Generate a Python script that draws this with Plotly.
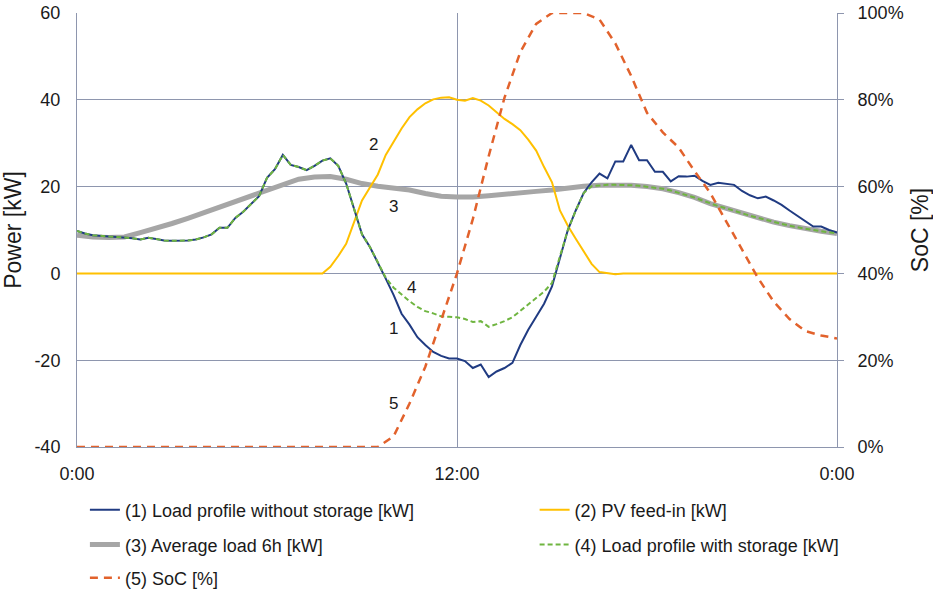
import plotly.graph_objects as go

# Time axis in hours (15-minute and 30-minute steps)
hours_q = [h / 4 for h in range(97)]
hours_h = [h / 2 for h in range(49)]

# (1) Load profile without storage [kW], 15-minute values
load_without = [
    9.8, 9.2, 8.8, 8.6,
    8.5, 8.4, 8.3, 8.1,
    7.8, 8.2, 7.9, 7.6,
    7.5, 7.5, 7.6, 7.8,
    8.3, 9.0, 10.5, 10.5,
    12.8, 14.2, 16.0, 17.8,
    22.0, 24.0, 27.3, 25.0,
    24.5, 23.8, 24.8, 26.0,
    26.5, 24.8, 20.7, 14.8,
    9.0, 6.1, 2.6, -1.2,
    -5.0, -9.3, -11.8, -14.7,
    -16.5, -18.1, -19.0, -19.6,
    -19.6, -20.2, -21.8, -21.0,
    -23.9, -22.6, -21.8, -20.6,
    -16.5, -13.0, -10.0, -7.0,
    -3.0, 3.8, 10.0, 14.5,
    18.5, 21.0, 23.0, 21.9,
    25.8, 25.8, 29.6, 26.1,
    26.1, 23.4, 23.4, 21.2,
    22.4, 22.3, 22.5, 21.3,
    20.4, 20.9, 20.7, 20.4,
    19.0, 18.0, 17.3, 17.7,
    16.8, 15.8, 14.5, 13.2,
    12.0, 10.8, 10.8, 10.0,
    9.4,
]

# (2) PV feed-in [kW], 15-minute values
pv_feed_in = [
    0, 0, 0, 0,
    0, 0, 0, 0,
    0, 0, 0, 0,
    0, 0, 0, 0,
    0, 0, 0, 0,
    0, 0, 0, 0,
    0, 0, 0, 0,
    0, 0, 0, 0,
    1.5, 4.0, 6.8, 12.0,
    16.8, 19.8, 22.8, 27.3,
    30.5, 33.4, 36.0, 37.8,
    39.2, 40.1, 40.5, 40.6,
    40.0, 39.8, 40.4, 39.8,
    38.7, 37.2, 35.6, 34.4,
    33.0, 30.8, 28.3, 24.5,
    21.0, 14.5, 11.0, 8.0,
    5.0, 2.2, 0.3, 0.0,
    -0.2, 0, 0, 0,
    0, 0, 0, 0,
    0, 0, 0, 0,
    0, 0, 0, 0,
    0, 0, 0, 0,
    0, 0, 0, 0,
    0, 0, 0, 0,
    0,
]

# (3) Average load 6h [kW], 30-minute values
avg_load_6h = [
    8.8, 8.4, 8.3, 8.4, 9.4, 10.4, 11.5, 12.7, 14.0, 15.5,
    16.7, 17.9, 19.4, 20.5, 21.7, 22.2, 22.3, 21.7, 20.7, 20.1,
    19.7, 19.2, 18.4, 17.8, 17.6, 17.6, 17.9, 18.3, 18.6, 18.9,
    19.2, 19.7, 20.1, 20.3, 20.4, 20.3, 20.0, 19.5, 18.6, 17.5,
    16.1, 15.0, 13.8, 12.8, 11.8, 11.0, 10.3, 9.7, 9.2,
]

# (4) Load profile with storage [kW], 15-minute values
load_with = [
    9.8, 9.2, 8.8, 8.6,
    8.5, 8.4, 8.3, 8.1,
    7.8, 8.2, 7.9, 7.6,
    7.5, 7.5, 7.6, 7.8,
    8.3, 9.0, 10.5, 10.5,
    12.8, 14.2, 16.0, 17.8,
    22.0, 24.0, 27.3, 25.0,
    24.5, 23.8, 24.8, 26.0,
    26.5, 24.8, 20.7, 14.8,
    9.0, 6.1, 2.6, -1.0,
    -3.3, -4.9, -6.4, -7.7,
    -8.7, -9.2, -9.9, -10.0,
    -10.1, -10.5, -11.2, -11.0,
    -12.3, -11.7, -11.0, -10.1,
    -8.6, -7.2, -5.6, -4.2,
    -2.2, 3.8, 10.0, 14.5,
    18.5, 20.1, 20.3, 20.4,
    20.4, 20.4, 20.3, 20.2,
    20.0, 19.8, 19.5, 19.1,
    18.6, 18.1, 17.5, 16.8,
    16.1, 15.5, 15.0, 14.4,
    13.8, 13.3, 12.8, 12.3,
    11.8, 11.4, 11.0, 10.6,
    10.3, 10.0, 9.7, 9.4,
    9.2,
]

# (5) SoC [%], 30-minute values
soc = [
    0, 0, 0, 0, 0, 0, 0, 0, 0, 0,
    0, 0, 0, 0, 0, 0, 0, 0, 0, 0,
    2.5, 10.0, 18.5, 29.5, 40.0, 52.5, 67.0, 80.5, 91.0, 97.5,
    100, 100, 100, 98.5, 93.0, 85.5, 77.0, 72.5, 69.0, 63.6,
    58.5, 52.0, 45.5, 39.0, 33.5, 29.5, 26.7, 25.7, 25.0,
]

x_tick_vals = [0, 12, 24]
x_tick_text = ["0:00", "12:00", "0:00"]
power_ticks = [-40, -20, 0, 20, 40, 60]
power_tick_text = ["-40", "-20", "0", "20", "40", "60"]
soc_ticks = [0, 20, 40, 60, 80, 100]
soc_tick_text = ["0%", "20%", "40%", "60%", "80%", "100%"]

curve_labels = ["1", "2", "3", "4", "5"]
label_hours = [9.98, 9.36, 9.98, 10.57, 9.98]
label_power = [-12.7, 29.6, 15.4, -3.2, -30.0]

FONT = "Liberation Sans, Arial, sans-serif"
TEXT = "#1a1a1a"
GRID = "#8e96ae"

fig = go.Figure()

fig.add_trace(go.Scatter(
    x=hours_h, y=avg_load_6h, mode="lines",
    name="(3) Average load 6h [kW]",
    line=dict(color="#a6a6a6", width=5),
    legend="legend3",
))
fig.add_trace(go.Scatter(
    x=hours_q, y=pv_feed_in, mode="lines",
    name="(2) PV feed-in [kW]",
    line=dict(color="#ffc000", width=2),
    legend="legend2",
))
fig.add_trace(go.Scatter(
    x=hours_q, y=load_without, mode="lines",
    name="(1) Load profile without storage [kW]",
    line=dict(color="#203b82", width=2),
    legend="legend",
))
fig.add_trace(go.Scatter(
    x=hours_q, y=load_with, mode="lines",
    name="(4) Load profile with storage [kW]",
    line=dict(color="#6fb540", width=2, dash="5px,3px"),
    legend="legend4",
))
fig.add_trace(go.Scatter(
    x=hours_h, y=soc, mode="lines", yaxis="y2",
    name="(5) SoC [%]",
    line=dict(color="#e2622c", width=2.5, dash="8px,6px"),
    legend="legend5",
))

for txt, hx, py in zip(curve_labels, label_hours, label_power):
    fig.add_annotation(
        x=hx, y=py, text=txt, showarrow=False,
        font=dict(family=FONT, size=17, color=TEXT),
    )

# Legend grid: two columns, three rows below the plot
col_x = [0.091, 0.573]
row_y = [0.137, 0.078, 0.022]


def legend_at(col, row):
    return dict(
        orientation="h",
        font=dict(family=FONT, size=18, color=TEXT),
        bgcolor="rgba(0,0,0,0)",
        xref="container", yref="container",
        x=col_x[col], y=row_y[row],
        xanchor="left", yanchor="middle",
        itemwidth=30,
    )


fig.update_layout(
    width=933, height=591,
    margin=dict(l=77, r=96, t=13, b=144, autoexpand=False),
    paper_bgcolor="white", plot_bgcolor="white",
    font=dict(family=FONT, size=18, color=TEXT),
    showlegend=True,
    legend=legend_at(0, 0),
    legend2=legend_at(1, 0),
    legend3=legend_at(0, 1),
    legend4=legend_at(1, 1),
    legend5=legend_at(0, 2),
    xaxis=dict(
        range=[0, 24], tickvals=x_tick_vals, ticktext=x_tick_text,
        showgrid=True, gridcolor=GRID, gridwidth=1,
        showline=True, linecolor=GRID, linewidth=1,
        zeroline=False, ticks="", ticklabelstandoff=10,
        automargin=False,
        tickfont=dict(family=FONT, size=18, color=TEXT),
    ),
    yaxis=dict(
        range=[-40, 60], tickvals=power_ticks, ticktext=power_tick_text,
        showgrid=True, gridcolor=GRID, gridwidth=1,
        showline=True, linecolor=GRID, linewidth=1,
        zeroline=False, ticks="", ticklabelstandoff=12,
        automargin=False,
        title=dict(text="Power [kW]", font=dict(family=FONT, size=23, color=TEXT), standoff=6),
        tickfont=dict(family=FONT, size=18, color=TEXT),
    ),
    yaxis2=dict(
        range=[0, 100], tickvals=soc_ticks, ticktext=soc_tick_text,
        overlaying="y", side="right",
        showgrid=False, showline=True, linecolor=GRID, linewidth=1,
        zeroline=False, ticks="outside", ticklen=6, tickcolor=GRID,
        ticklabelstandoff=10, automargin=False,
        title=dict(text="SoC [%]", font=dict(family=FONT, size=23, color=TEXT), standoff=12),
        tickfont=dict(family=FONT, size=18, color=TEXT),
    ),
)

fig.write_html("out.html")
